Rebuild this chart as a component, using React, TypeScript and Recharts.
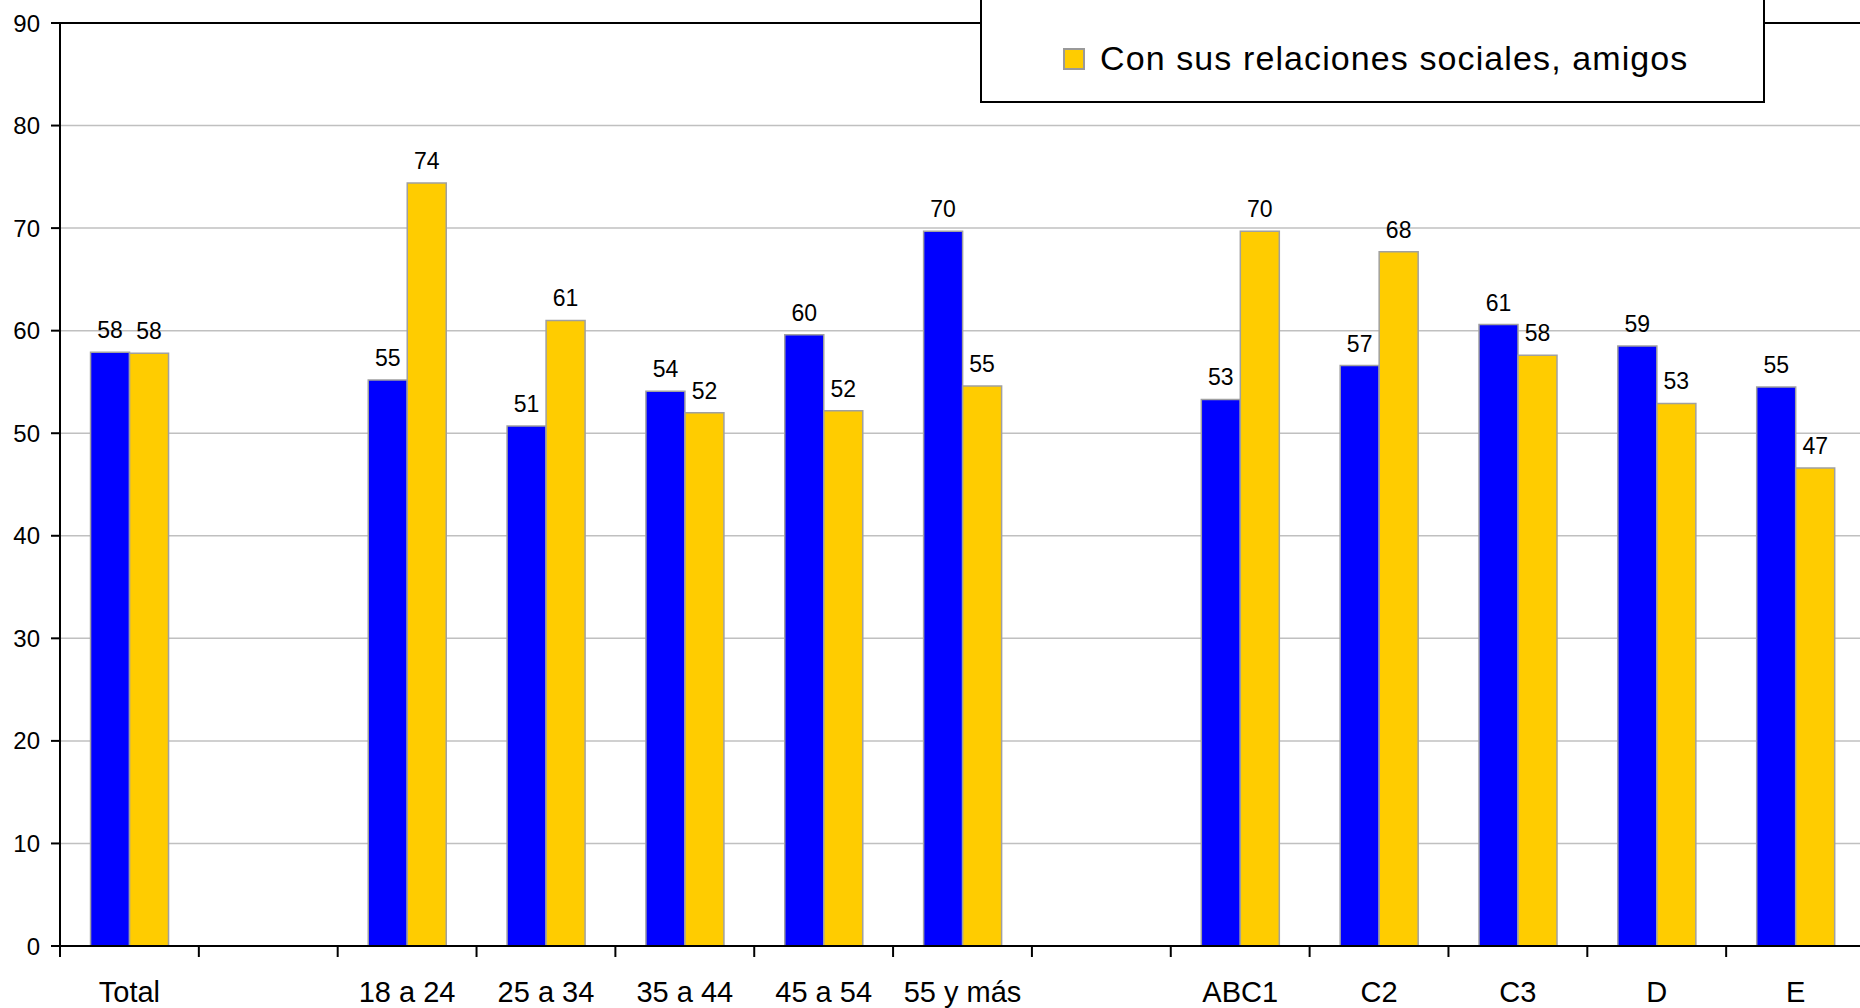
import { BarChart, Bar, XAxis, YAxis, CartesianGrid, ReferenceLine, Legend, LabelList } from "recharts"

const categories = ["Total", "", "18 a 24", "25 a 34", "35 a 44", "45 a 54", "55 y más", "", "ABC1", "C2", "C3", "D", "E"]
const serieAzul = [57.9, null, 55.2, 50.7, 54.1, 59.6, 69.7, null, 53.3, 56.6, 60.6, 58.5, 54.5]
const serieAmigos = [57.8, null, 74.4, 61.0, 52.0, 52.2, 54.6, null, 69.7, 67.7, 57.6, 52.9, 46.6]
const yTicks = [0, 10, 20, 30, 40, 50, 60, 70, 80, 90]
const legendLabel = "Con sus relaciones sociales, amigos"

const W = 1860
const H = 1008
const Y_AXIS_W = 60
const X_AXIS_H = 62
const RIGHT_OVERFLOW = 5
const BAND = (W + RIGHT_OVERFLOW - Y_AXIS_W) / categories.length
const FONT = "'Liberation Sans', Arial, sans-serif"

const data = categories.map((cat, i) => ({
  cat,
  azul: serieAzul[i],
  amigos: serieAmigos[i],
}))

function CategoryTick(props: any) {
  const { x, y, payload, index } = props
  const left = x - BAND / 2
  return (
    <g>
      <line x1={left} x2={left} y1={y} y2={y + 11} stroke="#000" strokeWidth={2} />
      {index === categories.length - 1 && (
        <line x1={x + BAND / 2} x2={x + BAND / 2} y1={y} y2={y + 11} stroke="#000" strokeWidth={2} />
      )}
      <text x={x} y={y + 56} textAnchor="middle" fontSize={29} fontFamily={FONT} fill="#000">
        {payload.value}
      </text>
    </g>
  )
}

function LegendBox() {
  return (
    <div
      style={{
        position: "relative",
        width: 785,
        height: 107,
        boxSizing: "border-box",
        border: "2px solid #000",
        background: "#fff",
        fontFamily: FONT,
      }}
    >
      <div
        style={{
          position: "absolute",
          left: 81,
          top: 50,
          width: 22,
          height: 22,
          boxSizing: "border-box",
          background: "#FFCC00",
          border: "2px solid #999",
        }}
      />
      <div
        style={{
          position: "absolute",
          left: 118,
          top: 43,
          fontSize: 34,
          lineHeight: "34px",
          letterSpacing: "1.1px",
          whiteSpace: "nowrap",
          color: "#000",
        }}
      >
        {legendLabel}
      </div>
    </div>
  )
}

const fmt = (v: any) => (v == null ? "" : Math.round(Number(v)))

export default function App() {
  return (
    <div style={{ position: "absolute", left: 0, top: 0, width: W, height: H, background: "#fff", overflow: "hidden" }}>
      <BarChart
        width={W}
        height={H}
        data={data}
        margin={{ top: 23, right: -RIGHT_OVERFLOW, left: 0, bottom: 0 }}
        barCategoryGap="22%"
        barGap={0}
      >
        <CartesianGrid vertical={false} stroke="#c0c0c0" strokeWidth={1.5} />
        <ReferenceLine y={90} stroke="#000" strokeWidth={2} />
        <XAxis
          dataKey="cat"
          height={X_AXIS_H}
          interval={0}
          tickLine={false}
          tickSize={0}
          tickMargin={0}
          axisLine={{ stroke: "#000", strokeWidth: 2 }}
          tick={<CategoryTick />}
        />
        <YAxis
          width={Y_AXIS_W}
          domain={[0, 90]}
          ticks={yTicks}
          interval={0}
          tickSize={9}
          tickMargin={11}
          axisLine={{ stroke: "#000", strokeWidth: 2 }}
          tickLine={{ stroke: "#000", strokeWidth: 2 }}
          tick={{ fontSize: 24, fill: "#000", fontFamily: FONT }}
        />
        <Legend
          layout="vertical"
          align="center"
          verticalAlign="middle"
          wrapperStyle={{ left: 980, top: -4, width: 785, height: 107 }}
          content={() => <LegendBox />}
        />
        <Bar dataKey="azul" name="Serie" fill="#0000FF" stroke="#a0a0a0" strokeWidth={1.5} isAnimationActive={false}>
          <LabelList dataKey="azul" position="top" offset={14} formatter={fmt} fontSize={23} fill="#000" fontFamily={FONT} />
        </Bar>
        <Bar dataKey="amigos" name={legendLabel} fill="#FFCC00" stroke="#a0a0a0" strokeWidth={1.5} isAnimationActive={false}>
          <LabelList dataKey="amigos" position="top" offset={14} formatter={fmt} fontSize={23} fill="#000" fontFamily={FONT} />
        </Bar>
      </BarChart>
    </div>
  )
}
